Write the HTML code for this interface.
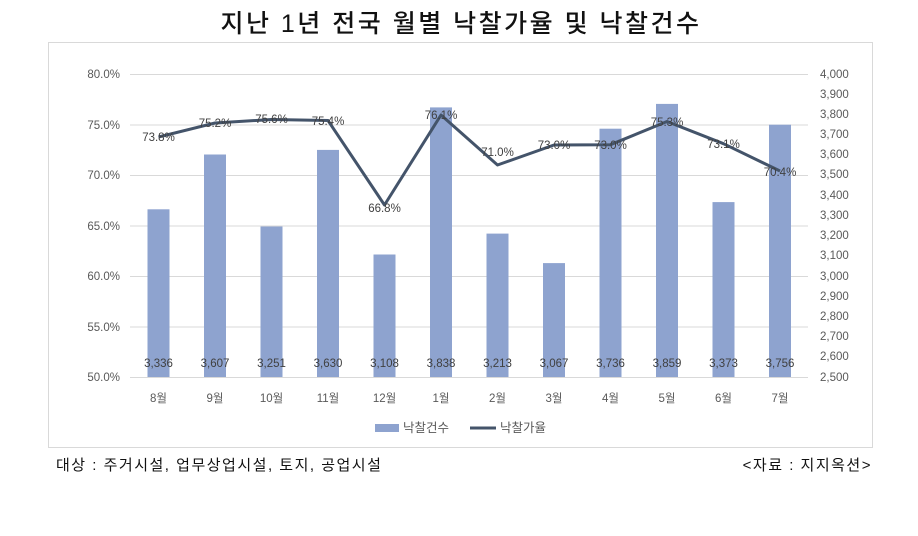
<!DOCTYPE html><html><head><meta charset="utf-8"><style>
body{margin:0;background:#fff;width:918px;height:531px;overflow:hidden;font-family:"Liberation Sans","Noto Sans CJK KR",sans-serif}
</style></head><body>
<svg width="918" height="531" xmlns="http://www.w3.org/2000/svg" font-family="Liberation Sans, Noto Sans CJK KR, sans-serif">
<text x="461" y="32" text-anchor="middle" font-size="25" font-weight="500" letter-spacing="2.5" fill="#111">지난 1년 전국 월별 낙찰가율 및 낙찰건수</text>
<rect x="48.5" y="42.5" width="824" height="405" fill="none" stroke="#d9d9d9"/>
<g stroke="#d9d9d9" stroke-width="1">
<line x1="130" x2="808" y1="74.5" y2="74.5"/><line x1="130" x2="808" y1="125" y2="125"/><line x1="130" x2="808" y1="175.5" y2="175.5"/><line x1="130" x2="808" y1="226" y2="226"/><line x1="130" x2="808" y1="276.5" y2="276.5"/><line x1="130" x2="808" y1="327" y2="327"/><line x1="130" x2="808" y1="377.5" y2="377.5"/>
</g>
<g font-size="11.5" fill="#595959" text-anchor="end">
<text x="120" y="78">80.0%</text><text x="120" y="129">75.0%</text><text x="120" y="179">70.0%</text><text x="120" y="230">65.0%</text><text x="120" y="280">60.0%</text><text x="120" y="331">55.0%</text><text x="120" y="381">50.0%</text>
</g>
<g font-size="11.5" fill="#595959" text-anchor="start">
<text x="820" y="78">4,000</text><text x="820" y="98">3,900</text><text x="820" y="118">3,800</text><text x="820" y="138">3,700</text><text x="820" y="158">3,600</text><text x="820" y="178">3,500</text><text x="820" y="199">3,400</text><text x="820" y="219">3,300</text><text x="820" y="239">3,200</text><text x="820" y="259">3,100</text><text x="820" y="280">3,000</text><text x="820" y="300">2,900</text><text x="820" y="320">2,800</text><text x="820" y="340">2,700</text><text x="820" y="360">2,600</text><text x="820" y="381">2,500</text>
</g>
<g fill="#8ea3cf">
<rect x="147.5" y="209.3" width="22" height="167.7"/>
<rect x="204" y="154.5" width="22" height="222.5"/>
<rect x="260.5" y="226.5" width="22" height="150.5"/>
<rect x="317" y="149.9" width="22" height="227.1"/>
<rect x="373.5" y="254.5" width="22" height="122.5"/>
<rect x="430" y="107.4" width="22" height="269.6"/>
<rect x="486.5" y="233.6" width="22" height="143.4"/>
<rect x="543" y="263.1" width="22" height="113.9"/>
<rect x="599.5" y="128.7" width="22" height="248.3"/>
<rect x="656" y="103.9" width="22" height="273.1"/>
<rect x="712.5" y="202.1" width="22" height="174.9"/>
<rect x="769" y="124.7" width="22" height="252.3"/>
</g>
<g font-size="11.5" fill="#404040" text-anchor="middle">
<text x="158.5" y="367">3,336</text><text x="215" y="367">3,607</text><text x="271.5" y="367">3,251</text><text x="328" y="367">3,630</text><text x="384.5" y="367">3,108</text><text x="441" y="367">3,838</text><text x="497.5" y="367">3,213</text><text x="554" y="367">3,067</text><text x="610.5" y="367">3,736</text><text x="667" y="367">3,859</text><text x="723.5" y="367">3,373</text><text x="780" y="367">3,756</text>
</g>
<polyline fill="none" stroke="#44546a" stroke-width="3" stroke-linejoin="round" points="158.5,137 215,123 271.5,119.5 328,120.5 384.5,205 441,115 497.5,165 554,145 610.5,144.7 667,121.5 723.5,143.7 780,171"/>
<g font-size="11.5" fill="#404040" text-anchor="middle">
<text x="158.5" y="141">73.8%</text><text x="215" y="127">75.2%</text><text x="271.5" y="123">75.6%</text><text x="328" y="125">75.4%</text><text x="384.5" y="212">66.8%</text><text x="441" y="119">76.1%</text><text x="497.5" y="156">71.0%</text><text x="554" y="149">73.0%</text><text x="610.5" y="149">73.0%</text><text x="667" y="126">75.3%</text><text x="723.5" y="148">73.1%</text><text x="780" y="176">70.4%</text>
</g>
<g font-size="11.5" fill="#595959" text-anchor="middle">
<text x="158.5" y="402">8월</text><text x="215" y="402">9월</text><text x="271.5" y="402">10월</text><text x="328" y="402">11월</text><text x="384.5" y="402">12월</text><text x="441" y="402">1월</text><text x="497.5" y="402">2월</text><text x="554" y="402">3월</text><text x="610.5" y="402">4월</text><text x="667" y="402">5월</text><text x="723.5" y="402">6월</text><text x="780" y="402">7월</text>
</g>
<rect x="375" y="424" width="24" height="8" fill="#8ea3cf"/>
<text x="403" y="432" font-size="12.5" fill="#595959">낙찰건수</text>
<line x1="470" x2="496" y1="428" y2="428" stroke="#44546a" stroke-width="3"/>
<text x="500" y="432" font-size="12.5" fill="#595959">낙찰가율</text>
<text x="56" y="470" font-size="15" letter-spacing="1.5" fill="#111">대상 : 주거시설, 업무상업시설, 토지, 공업시설</text>
<text x="872" y="470" font-size="15" letter-spacing="1.5" fill="#111" text-anchor="end">&lt;자료 : 지지옥션&gt;</text>
</svg>
</body></html>
